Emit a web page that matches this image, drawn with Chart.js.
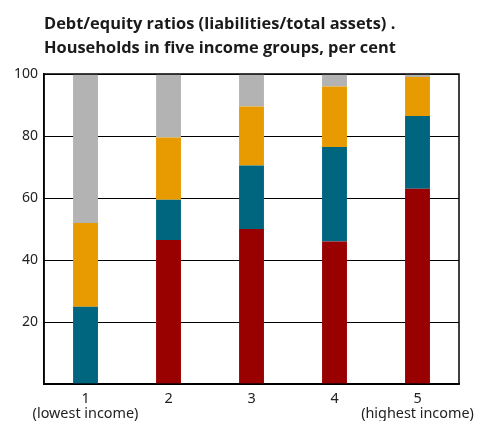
<!DOCTYPE html>
<html>
<head>
<meta charset="utf-8">
<script src="https://cdn.jsdelivr.net/npm/chart.js@4"></script>
<style>
  html, body { margin: 0; padding: 0; background: #fff; }
  #wrap { position: relative; width: 477px; height: 421px; }
  #title {
    position: absolute; left: 44px; top: 11px;
    font: bold 16.4px "Open Sans", sans-serif; line-height: 24px; color: #1a1a1a;
  }
</style>
</head>
<body>
<div id="wrap">
  <div id="title">Debt/equity ratios (liabilities/total assets) .<br>Households in five income groups, per cent</div>
  <canvas id="myChart" width="477" height="421"></canvas>
</div>
<script>
// data
const categories = [['1', '(lowest income)'], '2', '3', '4', ['5', '(highest income)']];
const redVals    = [0, 46.5, 50, 46, 63];
const tealVals   = [25, 13, 20.5, 30.5, 23.5];
const orangeVals = [27, 20, 19, 19.5, 12.5];
const greyVals   = [48, 20.5, 10.5, 4, 1];
const yTicks = [20, 40, 60, 80, 100];

// right / top frame of the plot area
const framePlugin = {
  id: 'framePlugin',
  afterDraw(chart) {
    const { ctx, chartArea: a } = chart;
    ctx.save();
    ctx.strokeStyle = '#000';
    ctx.lineWidth = 1.5;
    ctx.strokeRect(a.left, a.top, a.right - a.left, a.bottom - a.top);
    ctx.restore();
  }
};

const mk = (label, data, color) => ({
  label: label,
  data: data,
  backgroundColor: color,
  borderWidth: 0,
  barPercentage: 0.3,
  categoryPercentage: 1
});

new Chart(document.getElementById('myChart'), {
  type: 'bar',
  data: {
    labels: categories,
    datasets: [
      mk('Series 1', redVals, '#990000'),
      mk('Series 2', tealVals, '#006680'),
      mk('Series 3', orangeVals, '#E89B00'),
      mk('Series 4', greyVals, '#B3B3B3')
    ]
  },
  options: {
    responsive: false,
    animation: false,
    layout: { padding: { top: 74, right: 18, left: 8, bottom: 0 } },
    scales: {
      x: {
        stacked: true,
        grid: { display: false },
        border: { color: '#000', width: 1.5 },
        ticks: {
          color: '#222',
          font: { family: '"Noto Sans", sans-serif', size: 14.4, lineHeight: 1.0 },
          padding: 0,
          autoSkip: false,
          maxRotation: 0
        }
      },
      y: {
        stacked: true,
        min: 0,
        max: 100,
        afterBuildTicks: axis => { axis.ticks = [0].concat(yTicks).map(v => ({ value: v })); },
        grid: { color: '#000', lineWidth: 1, drawTicks: false },
        border: { color: '#000', width: 1.5 },
        ticks: {
          color: '#222',
          font: { family: '"Noto Sans", sans-serif', size: 14 },
          padding: 6,
          callback: v => v === 0 ? '' : v
        }
      }
    },
    plugins: {
      legend: { display: false },
      tooltip: { enabled: false }
    }
  },
  plugins: [framePlugin]
});
</script>
</body>
</html>
